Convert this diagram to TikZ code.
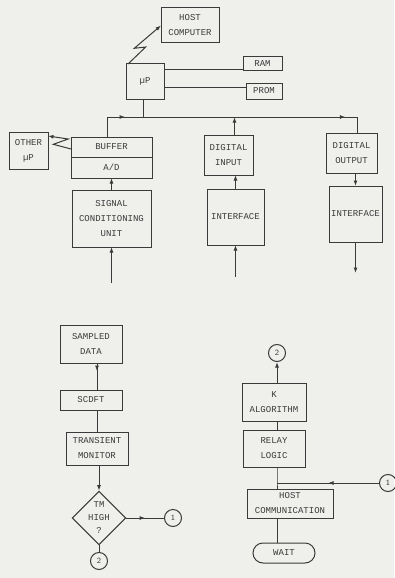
\documentclass[tikz,border=0pt]{standalone}
\usepackage{fontspec}
\setmonofont{Liberation Mono}
\usetikzlibrary{shapes.geometric,arrows.meta,decorations.markings}
\definecolor{cink}{HTML}{3a3a3a}
\definecolor{cpaper}{HTML}{efefec}

\begin{document}
\begin{tikzpicture}[x=1pt,y=-1pt,color=cink,line width=1pt,
  >={Latex[length=5.5pt,width=4pt]},
  box/.style={draw,inner sep=0pt,outer sep=0pt,align=center,
    font=\ttfamily\fontsize{9}{15}\selectfont},
  dec/.style={draw,diamond,aspect=1,inner sep=0pt,align=center,
    font=\ttfamily\fontsize{9}{13}\selectfont},
  circ/.style={draw,circle,minimum size=17pt,inner sep=0pt,
    font=\sffamily\fontsize{8}{9}\selectfont},
  midarrow/.style={postaction={decorate},
    decoration={markings,mark=at position #1 with {\arrow{>}}}},
  midarrow/.default=0.5]
  \useasboundingbox[fill=cpaper] (0,0) rectangle (394,578);
  \node[box,minimum width=58pt,minimum height=35pt] (host) at (190,25.5) {HOST\\COMPUTER};
  \node[box,minimum width=38pt,minimum height=35pt] (up) at (145,81.5) {µP};
  \node[box,minimum width=39pt,minimum height=14pt] (ram) at (262.5,64) {RAM};
  \node[box,minimum width=36pt,minimum height=16pt] (prom) at (264,91) {PROM};
  \node[box,minimum width=39pt,minimum height=37pt] (other) at (28.5,150.5) {OTHER\\µP};
  \node[box,minimum width=81pt,minimum height=20pt] (buffer) at (111.5,147) {BUFFER};
  \node[box,minimum width=81pt,minimum height=21pt] (ad) at (111.5,167.5) {A/D};
  \node[box,minimum width=49pt,minimum height=40pt] (din) at (228.5,155) {DIGITAL\\INPUT};
  \node[box,minimum width=51pt,minimum height=40pt] (dout) at (351.5,153) {DIGITAL\\OUTPUT};
  \node[box,minimum width=79pt,minimum height=57pt] (scu) at (111.5,218.5) {SIGNAL\\CONDITIONING\\UNIT};
  \node[box,minimum width=57pt,minimum height=56pt] (intin) at (235.5,217) {INTERFACE};
  \node[box,minimum width=53pt,minimum height=56pt] (intout) at (355.5,214) {INTERFACE};
  \coordinate (busl) at (107,117);
  \coordinate (busm) at (143,117);
  \coordinate (busr) at (357,117);
  \coordinate (sig) at (111.5,283);
  \coordinate (inp) at (235.5,277);
  \coordinate (outp) at (355.5,273);
  \draw (up.south -| busm) -- (busm);
  \draw[midarrow=0.68] (buffer.north -| busl) -- (busl) -- (busm);
  \draw[midarrow=0.88] (busm) -- (busr) -- (dout.north -| busr);
  \draw[->] ([xshift=6pt]din.north) -- ([xshift=6pt]din.north |- busm);
  \draw (up.east |- 0,70) -- (ram.west |- 0,70);
  \draw (up.east |- 0,87) -- (prom.west |- 0,87);
  \draw[->] ([xshift=2pt]up.north west) -- (145.7,47) -- (134.3,48.3) -- (host.west);
  \draw[->] ([yshift=-12pt]buffer.north west) -- (53.3,144.3) -- (68.3,139)
    -- ([yshift=-4pt]other.north east);
  \draw[->] (scu.north) -- (ad.south);
  \draw[->] (sig) -- (scu.south);
  \draw[->] (intin.north) -- (intin.north |- din.south);
  \draw[->] (inp) -- (intin.south);
  \draw[->] (dout.south -| intout) -- (intout.north);
  \draw[->] (intout.south) -- (outp);

  \node[box,minimum width=62pt,minimum height=38pt] (sd) at (91,344) {SAMPLED\\DATA};
  \node[box,minimum width=62pt,minimum height=20pt] (scdft) at (91,400) {SCDFT};
  \node[box,minimum width=62pt,minimum height=33pt] (tm) at (97,448.5) {TRANSIENT\\MONITOR};
  \node[dec] (high) at (99,518) {TM\\HIGH\\?};
  \node[circ] (ca) at (173,518) {1};
  \node[circ] (cb) at (99,561) {2};
  \draw[midarrow=0.3] (sd.south -| tm) -- (scdft.north -| tm);
  \draw (scdft.south -| tm) -- (tm.north);
  \draw[->] (tm.south -| high) -- (high.north);
  \draw[midarrow] (high.east) -- (ca.west);
  \draw (high.south) -- (cb.north);

  \node[circ] (cc) at (277,353) {2};
  \node[box,minimum width=64pt,minimum height=38pt] (kalg) at (274,402) {K\\ALGORITHM};
  \node[box,minimum width=62pt,minimum height=37pt] (relay) at (274,448.5) {RELAY\\LOGIC};
  \node[box,minimum width=86pt,minimum height=29pt] (hcom) at (290,503.5) {HOST\\COMMUNICATION};
  \node[box,rounded corners=10pt,minimum width=62pt,minimum height=20pt] (wait) at (284,553) {WAIT};
  \node[circ] (cd) at (388,483) {1};
  \coordinate (jn) at (277,483);
  \draw[->] (kalg.north -| jn) -- (cc.south);
  \draw (kalg.south -| jn) -- (relay.north -| jn);
  \draw (relay.south -| jn) -- (jn) -- (hcom.north -| jn);
  \draw[midarrow] (cd.west) -- (jn);
  \draw (hcom.south -| jn) -- (wait.north -| jn);
\end{tikzpicture}
\end{document}
